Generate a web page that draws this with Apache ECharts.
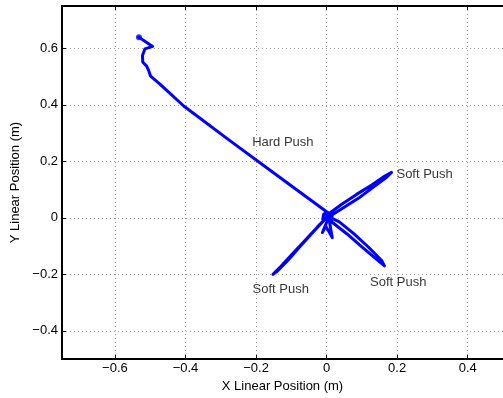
<!DOCTYPE html>
<html>
<head>
<meta charset="utf-8">
<script src="https://cdn.jsdelivr.net/npm/echarts@6/dist/echarts.min.js"></script>
<style>html,body{margin:0;padding:0;background:#fff}#c{width:503px;height:398px}</style>
</head>
<body>
<div id="c"></div>
<script>
// Axis settings
var xMin = -0.75, xMax = 0.5;
var yMin = -0.5, yMax = 0.75;
var xTitle = 'X Linear Position (m)';
var yTitle = 'Y Linear Position (m)';

// Trajectory segments [x, y] (m)
var hardPush = [
  [-0.532, 0.639], [-0.493, 0.607], [-0.515, 0.598], [-0.522, 0.575], [-0.521, 0.551],
  [-0.510, 0.537], [-0.504, 0.520], [-0.499, 0.502], [-0.474, 0.475], [-0.440, 0.436],
  [-0.405, 0.396], [-0.370, 0.363], [-0.278, 0.277], [-0.138, 0.148], [0.002, 0.020]
];
var centerBlob = [
  [0.010, 0.012], [-0.008, 0.014], [-0.011, -0.004], [0.008, -0.010], [0.013, 0.004],
  [-0.004, 0.016], [0.012, 0.018], [0.002, 0.004]
];
var softPushUpperRight = [
  [0.010, 0.018], [0.044, 0.049], [0.086, 0.084], [0.128, 0.116], [0.164, 0.147], [0.184, 0.161],
  [0.170, 0.144], [0.128, 0.105], [0.091, 0.070], [0.052, 0.039], [0.016, 0.011]
];
var softPushLowerRight = [
  [0.013, -0.013], [0.058, -0.057], [0.100, -0.103], [0.136, -0.141], [0.164, -0.170],
  [0.156, -0.151], [0.119, -0.104], [0.077, -0.056], [0.036, -0.014], [0.010, 0.002]
];
var centerHook = [
  [0.004, -0.004], [-0.012, -0.052], [-0.002, -0.030], [0.016, -0.070], [0.008, -0.012]
];
var softPushLowerLeft = [
  [0.002, 0.004], [-0.026, -0.032], [-0.062, -0.081], [-0.096, -0.126], [-0.130, -0.172],
  [-0.152, -0.200], [-0.140, -0.189], [-0.110, -0.151], [-0.076, -0.102], [-0.040, -0.053],
  [-0.009, -0.011], [0.004, 0.010]
];

// Annotations
var labelNames = ['Hard Push', 'Soft Push', 'Soft Push', 'Soft Push'];
var labelPos = [[-0.124, 0.267], [0.198, 0.154], [0.203, -0.228], [-0.130, -0.253]];
var labelAlign = ['center', 'left', 'center', 'center'];

var trajectory = [].concat(hardPush, centerBlob, softPushUpperRight, softPushLowerRight,
                           centerHook, softPushLowerLeft);

var FONT = '"Liberation Sans", Arial, Helvetica, sans-serif';
function fmt(v) {
  var r = Math.round(v * 10) / 10;
  var s = String(Math.abs(r));
  return (r < 0 ? '\u2212' : '') + s;
}

var chart = echarts.init(document.getElementById('c'), null, {renderer: 'canvas'});
chart.setOption({
  animation: false,
  backgroundColor: '#fff',
  grid: {left: 62, top: 6, width: 446, height: 355, containLabel: false},
  xAxis: [{
    type: 'value', min: xMin, max: xMax, splitNumber: 6, position: 'bottom',
    name: xTitle, nameLocation: 'middle', nameGap: 18,
    nameTextStyle: {fontFamily: FONT, fontSize: 13, color: '#000'},
    axisLine: {show: true, onZero: false, lineStyle: {color: '#000', width: 2}},
    axisTick: {show: true, inside: true, length: 4, lineStyle: {color: '#000', width: 1}},
    axisLabel: {show: true, margin: 3, fontFamily: FONT, fontSize: 13, color: '#000',
      showMinLabel: false, showMaxLabel: false, formatter: fmt},
    splitLine: {show: true, lineStyle: {color: '#9a9a9a', type: [1, 3], width: 1}}
  }, {
    type: 'value', min: xMin, max: xMax, splitNumber: 6, position: 'top',
    axisLine: {show: true, onZero: false, lineStyle: {color: '#000', width: 2}},
    axisTick: {show: true, inside: true, length: 4, lineStyle: {color: '#000', width: 1}},
    axisLabel: {show: false}, splitLine: {show: false}
  }],
  yAxis: [{
    type: 'value', min: yMin, max: yMax, splitNumber: 6, position: 'left',
    name: yTitle, nameLocation: 'middle', nameGap: 38, nameRotate: 90,
    nameTextStyle: {fontFamily: FONT, fontSize: 13, color: '#000'},
    axisLine: {show: true, onZero: false, lineStyle: {color: '#000', width: 2}},
    axisTick: {show: true, inside: true, length: 4, lineStyle: {color: '#000', width: 1}},
    axisLabel: {show: true, margin: 4, fontFamily: FONT, fontSize: 13, color: '#000',
      showMinLabel: false, showMaxLabel: false, formatter: fmt},
    splitLine: {show: true, lineStyle: {color: '#9a9a9a', type: [1, 3], width: 1}}
  }],
  series: [{
    type: 'line', data: trajectory, showSymbol: false, smooth: false,
    lineStyle: {color: '#0000ff', width: 3, join: 'round', cap: 'round'},
    itemStyle: {color: '#0000ff'}, z: 3
  }, {
    type: 'scatter', data: [hardPush[0]], symbolSize: 6,
    itemStyle: {color: '#0000ff'}, z: 4
  }, {
    type: 'scatter', symbolSize: 0, z: 5,
    data: labelNames.map(function (n, i) {
      return {name: n, value: labelPos[i],
        label: {show: true, position: labelAlign[i] === 'left' ? 'right' : 'inside',
          distance: 0, formatter: n, fontFamily: FONT, fontSize: 13, color: '#000'}};
    })
  }]
});
</script>
</body>
</html>
